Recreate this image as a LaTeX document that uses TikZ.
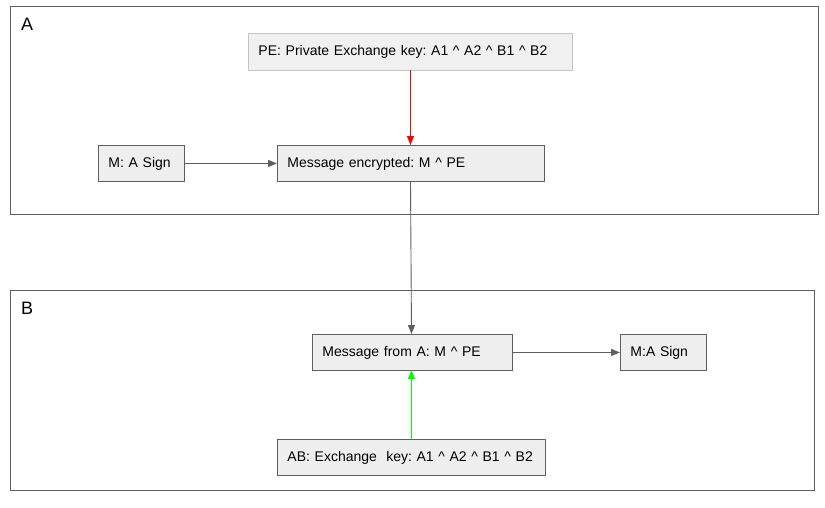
\documentclass[tikz,border=0pt]{standalone}
\usepackage{fontspec}
\setmainfont{Liberation Sans}
\usetikzlibrary{arrows.meta}
\definecolor{edge}{HTML}{5F5F5F}
\definecolor{boxfill}{HTML}{EEEEEE}
\definecolor{pefill}{HTML}{F0F0F0}
\definecolor{peline}{HTML}{C4C4C4}
\definecolor{grn}{rgb}{0,1,0}
\frenchspacing
\begin{document}
\begin{tikzpicture}[x=1pt,y=-1pt,
  container/.style={draw=edge, line width=0.9pt},
  box/.style={draw=edge, fill=boxfill, line width=0.9pt, anchor=north west,
    inner xsep=10pt, inner ysep=0pt, align=left, font=\fontsize{14}{16}\selectfont\frenchspacing},
  conn/.style={color=edge, line width=0.9pt, -{Triangle[length=9pt,width=7pt]}},
  greenconn/.style={draw=grn, line width=1.2pt, -{Triangle[length=9pt,width=7pt,fill=grn]}},
  clabel/.style={font=\fontsize{18}{20}\selectfont, anchor=north west, inner sep=0pt}]
\useasboundingbox (0,0) rectangle (825,507);
% containers
\draw[container] (10.5,6.5) rectangle (818.5,214.5);
\node[clabel] (la) at (21,18) {A};
\draw[container] (10.5,290.5) rectangle (814.5,490.5);
\node[clabel] (lb) at (21,302) {B};
% nodes
\node[box, draw=peline, fill=pefill, minimum height=37pt, text width=304pt] (pe) at (248,33) {PE: Private Exchange key: A1 \^{} A2 \^{} B1 \^{} B2};
\node[box, minimum height=36pt, text width=66pt] (ms) at (98,145) {M: A Sign};
\node[box, minimum height=36pt, text width=247pt] (me) at (277,145) {Message encrypted: M \^{} PE};
\node[box, minimum height=36pt, text width=180pt] (mf) at (312,334) {Message from A: M \^{} PE};
\node[box, minimum height=36pt, text width=66pt] (mb) at (620,334) {M:A Sign};
\node[box, minimum height=36pt, text width=248pt] (ab) at (277,439) {AB: Exchange\ \ key: A1 \^{} A2 \^{} B1 \^{} B2};
% connectors
\coordinate (pe1) at (410.5,70);
\coordinate (me1) at (410.5,145);
\draw[conn, color=red] (pe1) -- (me1);
\draw[conn] (ms.east) -- (me.west);
\coordinate (me2) at (410.5,181);
\coordinate (mf1) at (411.5,334);
\draw[conn] (me2) -- (mf1);
\coordinate (ab1) at (411.5,439);
\coordinate (mf2) at (411.5,370);
\draw[greenconn] (ab1) -- (mf2);
\draw[conn] (mf.east) -- (mb.west);
\end{tikzpicture}
\end{document}
